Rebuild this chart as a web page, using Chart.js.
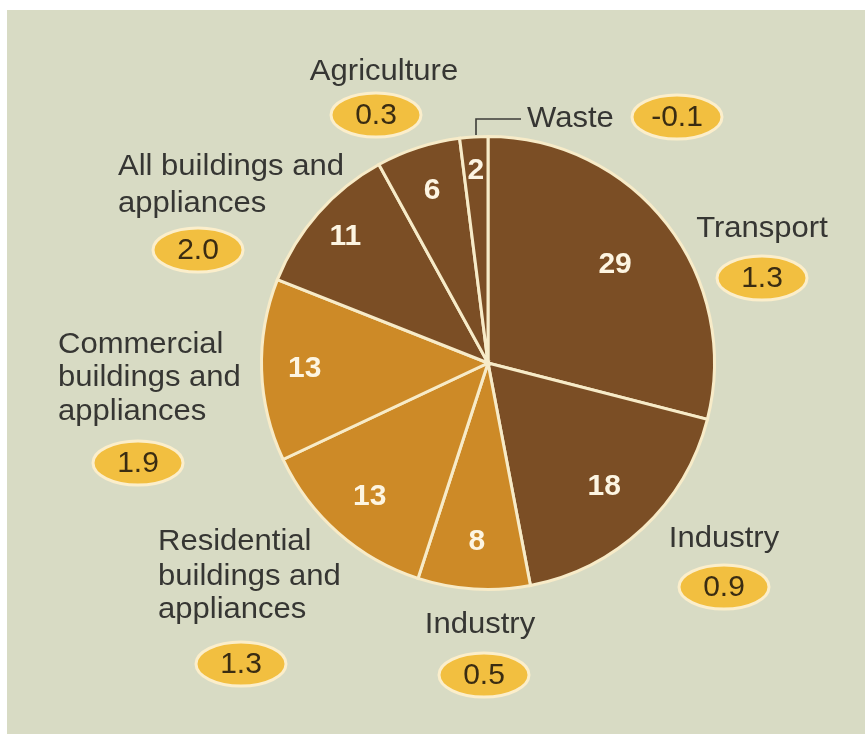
<!DOCTYPE html>
<html>
<head>
<meta charset="utf-8">
<title>Emissions by sector</title>
<script src="https://cdn.jsdelivr.net/npm/chart.js@4/dist/chart.umd.min.js"></script>
<style>
  html, body { margin: 0; padding: 0; background: #ffffff; }
  body { width: 865px; height: 734px; position: relative; overflow: hidden; }
  #panel { position: absolute; left: 7px; top: 10px; width: 858px; height: 724px; background: #d8dbc4; }
  #chart { position: absolute; left: 0; top: 0; }
</style>
</head>
<body>
<div id="panel"></div>
<canvas id="chart" width="865" height="734"></canvas>
<script>
// Sectors, clockwise from 12 o'clock
const sectors = ['Transport', 'Industry', 'Industry', 'Residential buildings and appliances',
  'Commercial buildings and appliances', 'All buildings and appliances', 'Agriculture', 'Waste'];
// Share of the total (%)
const shares = [29, 18, 8, 13, 13, 11, 6, 2];
// Change figures shown in the yellow badges
const changes = [1.3, 0.9, 0.5, 1.3, 1.9, 2.0, 0.3, -0.1];
// Callout text, broken into lines
const calloutLines = [
  ['Transport'], ['Industry'], ['Industry'],
  ['Residential', 'buildings and', 'appliances'],
  ['Commercial', 'buildings and', 'appliances'],
  ['All buildings and', 'appliances'],
  ['Agriculture'], ['Waste']
];

const DARK = '#7b4e25';
const GOLD = '#cd8a27';
const sliceColors = [DARK, DARK, GOLD, GOLD, GOLD, DARK, DARK, DARK];

// Where each in-slice number sits, as a fraction of the radius
const valueRadius = [0.71, 0.75, 0.79, 0.79, 0.81, 0.84, 0.80, 0.85];

// Callout placement (canvas px): text anchor, baselines, badge centre
const calloutLayout = [
  { align: 'center', x: 762, ys: [237], badge: [762, 278] },
  { align: 'center', x: 724, ys: [547], badge: [724, 587] },
  { align: 'center', x: 480, ys: [633], badge: [484, 675] },
  { align: 'left',   x: 158, ys: [550, 585, 618], badge: [241, 664] },
  { align: 'left',   x: 58,  ys: [353, 386, 420], badge: [138, 463] },
  { align: 'left',   x: 118, ys: [175, 212], badge: [198, 250] },
  { align: 'center', x: 384, ys: [80], badge: [376, 115] },
  { align: 'left',   x: 527, ys: [127], badge: [677, 117], leader: [[476, 135], [476, 119], [521, 119]] }
];

const FONT = '"Liberation Sans", Arial, Helvetica, sans-serif';

function stretchedText(ctx, text, x, y, align, sx) {
  ctx.save();
  ctx.translate(x, y);
  ctx.scale(sx, 1);
  ctx.textAlign = align;
  ctx.fillText(text, 0, 0);
  ctx.restore();
}

const sliceValues = {
  id: 'sliceValues',
  afterDatasetsDraw(chart) {
    const ctx = chart.ctx;
    const arcs = chart.getDatasetMeta(0).data;
    ctx.save();
    ctx.fillStyle = '#fdf5e2';
    ctx.font = 'bold 30px ' + FONT;
    ctx.textAlign = 'center';
    ctx.textBaseline = 'middle';
    arcs.forEach((arc, i) => {
      const p = arc.getProps(['x', 'y', 'startAngle', 'endAngle', 'outerRadius'], true);
      const mid = (p.startAngle + p.endAngle) / 2;
      const r = p.outerRadius * valueRadius[i];
      ctx.fillText(String(shares[i]), p.x + Math.cos(mid) * r, p.y + Math.sin(mid) * r);
    });
    ctx.restore();
  }
};

const callouts = {
  id: 'callouts',
  afterDraw(chart) {
    const ctx = chart.ctx;
    ctx.save();
    calloutLayout.forEach((c, i) => {
      // sector name
      ctx.fillStyle = '#363633';
      ctx.font = '29px ' + FONT;
      ctx.textBaseline = 'alphabetic';
      calloutLines[i].forEach((line, k) => stretchedText(ctx, line, c.x, c.ys[k], c.align, 1.07));
      // leader line
      if (c.leader) {
        ctx.strokeStyle = '#3c3c38';
        ctx.lineWidth = 1.6;
        ctx.beginPath();
        c.leader.forEach((pt, k) => k ? ctx.lineTo(pt[0], pt[1]) : ctx.moveTo(pt[0], pt[1]));
        ctx.stroke();
      }
      // badge
      const [bx, by] = c.badge;
      ctx.beginPath();
      ctx.ellipse(bx, by, 45, 22, 0, 0, Math.PI * 2);
      ctx.fillStyle = '#f2bf40';
      ctx.fill();
      ctx.lineWidth = 3;
      ctx.strokeStyle = '#fbeecb';
      ctx.stroke();
      ctx.fillStyle = '#3a2c12';
      ctx.font = '30px ' + FONT;
      ctx.textAlign = 'center';
      ctx.textBaseline = 'middle';
      ctx.fillText(changes[i].toFixed(1), bx, by + 1);
    });
    ctx.restore();
  }
};

new Chart(document.getElementById('chart'), {
  type: 'pie',
  data: {
    labels: sectors,
    datasets: [{
      data: shares,
      backgroundColor: sliceColors,
      borderColor: '#f7ebc8',
      borderWidth: 3,
      borderJoinStyle: 'miter'
    }]
  },
  options: {
    responsive: false,
    animation: false,
    layout: { padding: { left: 260, right: 149, top: 135, bottom: 143 } },
    plugins: {
      legend: { display: false },
      tooltip: { enabled: false }
    }
  },
  plugins: [sliceValues, callouts]
});
</script>
</body>
</html>
